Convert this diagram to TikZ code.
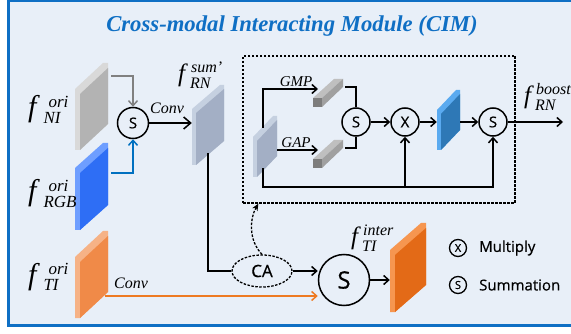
\documentclass[tikz,border=0pt]{standalone}
\usepackage{amsmath}
\usepackage{fontspec}
\setmainfont{Liberation Serif}
\newfontfamily\sansf{Open Sans}[FakeBold=0.6]
\usetikzlibrary{arrows.meta,shapes.geometric,calc}
\DeclareMathSizes{30}{30}{17}{12}
\DeclareMathSizes{25}{25}{16}{11}
\definecolor{bgc}{HTML}{E8EFF8}
\definecolor{bordc}{HTML}{0F6FC4}
\definecolor{titc}{HTML}{0F6FC4}
\definecolor{garr}{HTML}{808080}
\definecolor{barr}{HTML}{0070C0}
\definecolor{oarr}{HTML}{EE7A22}
% size, kern to scripts, extra kern for sup, sup, sub
\newcommand\flab[5]{\fontsize{#1}{#1}\selectfont$\textit{f}\kern#2{}^{\kern#3\textit{#4}}_{\textit{#5}}$}
% x0, ytl, w, rise, h, t, face, light, name
\newcommand\slab[9]{%
 \fill[#8] (#1,#2) -- ({#1+#3-#6},{#2-#4}) -- ({#1+#3},{#2-#4}) -- ({#1+#3},{#2-#4+#5}) -- ({#1+#6},{#2+#5}) -- (#1,{#2+#5}) -- cycle;
 \fill[#7] ({#1+#6},{#2+#6}) -- ({#1+#3},{#2-#4+#6}) -- ({#1+#3},{#2-#4+#5}) -- ({#1+#6},{#2+#5}) -- cycle;
 \node[inner sep=0,minimum width=#3,minimum height={#5+#4}] (#9) at ({#1+#3/2},{#2+(#5-#4)/2}) {};
}
% x0, ybottom, name
\newcommand\pbar[3]{%
 \fill[fill={rgb,255:red,191;green,191;blue,191}] (#1,{#2-9}) -- ({#1+21},{#2-28}) -- ({#1+30},{#2-28}) -- ({#1+9},{#2-9}) -- cycle;
 \fill[fill={rgb,255:red,160;green,160;blue,160}] ({#1+9},{#2-9}) -- ({#1+30},{#2-28}) -- ({#1+30},{#2-20}) -- ({#1+9},{#2}) -- cycle;
 \fill[fill={rgb,255:red,125;green,125;blue,125}] (#1,{#2-9}) rectangle ({#1+9},#2);
 \node[inner sep=0,minimum width=30,minimum height=28] (#3) at ({#1+15},{#2-14}) {};
}
\tikzset{
 ln/.style={line width=1.5pt, draw=black},
 arr/.style={ln, -{Straight Barb[length=5pt,width=9pt]}},
 bigarr/.style={ln, -{Straight Barb[length=7pt,width=12pt]}},
 circ/.style={circle, draw, line width=1.5pt, inner sep=0pt, minimum size=28pt, font=\sansf\fontsize{15}{15}\selectfont},
 conv/.style={font=\fontsize{16}{16}\selectfont\itshape},
 lbl/.style={anchor=base west, inner sep=0pt},
 dsh/.style={line width=1.3pt, dash pattern=on 2.5pt off 1.5pt},
}
\begin{document}
\begin{tikzpicture}[x=1pt,y=-1pt]
\useasboundingbox (0,0) rectangle (571,334);
\clip (0,0) rectangle (571,334);
\fill[white] (0,0) rectangle (571,334);
\draw[line width=3.2pt, draw=bordc, fill=bgc] (8.3,0.6) rectangle (585,325.6);

\node[anchor=base, text=titc, font=\fontsize{22.7}{24}\selectfont\bfseries\itshape] (title) at (292,32) {Cross-modal Interacting Module (CIM)};

% left slabs
\slab{75}{89}{33}{26}{61}{5}{fill={rgb,255:red,179;green,179;blue,179}}{fill={rgb,255:red,217;green,217;blue,217}}{NI}
\slab{75}{168}{33}{25}{62}{5}{fill={rgb,255:red,46;green,110;blue,245}}{fill={rgb,255:red,110;green,158;blue,255}}{RGB}
\slab{75}{257}{33}{26}{61}{5}{fill={rgb,255:red,240;green,138;blue,72}}{fill={rgb,255:red,246;green,178;blue,134}}{TI}

\node[lbl] (lNI) at (28,117) {\flab{30}{7pt}{5pt}{ori}{NI}};
\node[lbl] (lRGB) at (28,201) {\flab{30}{7pt}{5pt}{ori}{RGB}};
\node[lbl] (lTI) at (28,284) {\flab{30}{7pt}{5pt}{ori}{TI}};

% first summation
\node[circ, minimum size=31pt] (S1) at (133,123) {S};
\draw[line width=1.5pt, draw=garr, -{Straight Barb[length=5pt,width=9pt]}] ($(NI.north east)+(3,13)$) -| (S1.north);
\draw[line width=1.5pt, draw=barr, -{Straight Barb[length=5pt,width=9pt]}] ($(RGB.north east)+(3,30)$) -| (S1.south);

% RN sum slab
\slab{192}{109}{32}{24}{56}{4}{fill={rgb,255:red,163;green,175;blue,197}}{fill={rgb,255:red,197;green,208;blue,224}}{RN}
\node[lbl] (lRN) at (178,82) {\flab{25}{5pt}{1pt}{sum'}{RN}};
\draw[bigarr] (S1) -- (S1 -| RN.west);
\node[conv] (conv1) at (167,108) {Conv};

% dashed box
\node[dsh, draw, minimum width=272pt, minimum height=147pt, inner sep=0pt] (box) at (379,129.5) {};

% inside
\slab{253}{137}{24}{21}{40}{4}{fill={rgb,255:red,163;green,175;blue,197}}{fill={rgb,255:red,197;green,208;blue,224}}{sRN}
\pbar{313}{107}{GMP}
\pbar{313}{168}{GAP}
\coordinate (GMPin) at (318,89);
\coordinate (GAPin) at (318,150);
\coordinate (GMPout) at (345,87);
\coordinate (GAPout) at (345,148);
\draw[arr] ($(sRN.north west)+(10,12)$) |- (GMPin);
\draw[arr] (sRN.east |- GAPin) -- (GAPin);
\node[conv, font=\fontsize{15}{15}\selectfont\itshape] (tGMP) at (296,82) {GMP};
\node[conv, font=\fontsize{15}{15}\selectfont\itshape] (tGAP) at (296,143) {GAP};

\node[circ] (Sa) at (356,122) {S};
\node[circ] (X) at (405,122) {X};
\node[circ] (S3) at (493,122) {S};
\draw[ln] (GMPout) -| (Sa.north);
\draw[ln] (GAPout) -| (Sa.south);
\draw[arr] (Sa) -- (X);
\slab{437}{110}{23}{20}{40}{4}{fill={rgb,255:red,46;green,120;blue,182}}{fill={rgb,255:red,90;green,170;blue,240}}{boost}
\draw[arr] (X) -- (X -| boost.west);
\draw[arr] (X -| boost.east) -- (S3);
\coordinate (outc) at (563,122);
\draw[arr] (S3) -- (outc);
\node[lbl] (lboost) at (524,104) {\flab{25}{4pt}{1pt}{boost}{RN}};

\coordinate (bl) at ($(sRN.south west)+(10,-9)$);
\coordinate (bot) at ($(sRN.south west)+(10,10)$);
\draw[arr] (bl) -- (bot) -| (S3.south);
\draw[arr] (X.south |- bot) -- (X.south);

% lower part
\node[ellipse, dsh, draw, minimum width=60pt, minimum height=32pt, inner sep=0pt, font=\sansf\fontsize{17}{17}\selectfont] (CA) at (262,271) {CA};
\draw[ln] ($(RN.south)+(0,-12)$) |- (CA.west);
\draw[dsh, -{Stealth[length=7pt,width=6pt]}] (CA.north) .. controls (248,240) and (250,218) .. ($(box.south west)+(16,0)$);

\node[circ, minimum size=51pt, font=\sansf\fontsize{24}{24}\selectfont] (S2) at (344,280) {S};
\draw[arr] (CA.east) -- (CA.east -| S2.west);
\coordinate (oc) at ($(TI.east)+(-3,21.5)$);
\draw[line width=1.5pt, draw=oarr, -{Straight Barb[length=5pt,width=9pt]}] (oc) -- (oc -| S2.west);
\node[conv] (conv2) at (131,283) {Conv};

\slab{390}{250}{36}{27}{62}{5}{fill={rgb,255:red,227;green,106;blue,23}}{fill={rgb,255:red,246;green,150;blue,80}}{TIi}
\draw[arr] (S2) -- (S2 -| TIi.west);
\node[lbl] (lTIi) at (351,245) {\flab{25}{4pt}{1pt}{inter}{TI}};

% legend
\node[circ, minimum size=17pt, line width=1.3pt, font=\sansf\fontsize{11}{11}\selectfont] (lgX) at (458,248) {X};
\node[circ, minimum size=17pt, line width=1.3pt, font=\sansf\fontsize{11}{11}\selectfont] (lgS) at (458,285) {S};
\node[anchor=west, inner sep=0pt, font=\sansf\fontsize{15}{15}\selectfont] (tX) at (479,248) {Multiply};
\node[anchor=west, inner sep=0pt, font=\sansf\fontsize{15}{15}\selectfont] (tS) at (479,285) {Summation};
\end{tikzpicture}
\end{document}
